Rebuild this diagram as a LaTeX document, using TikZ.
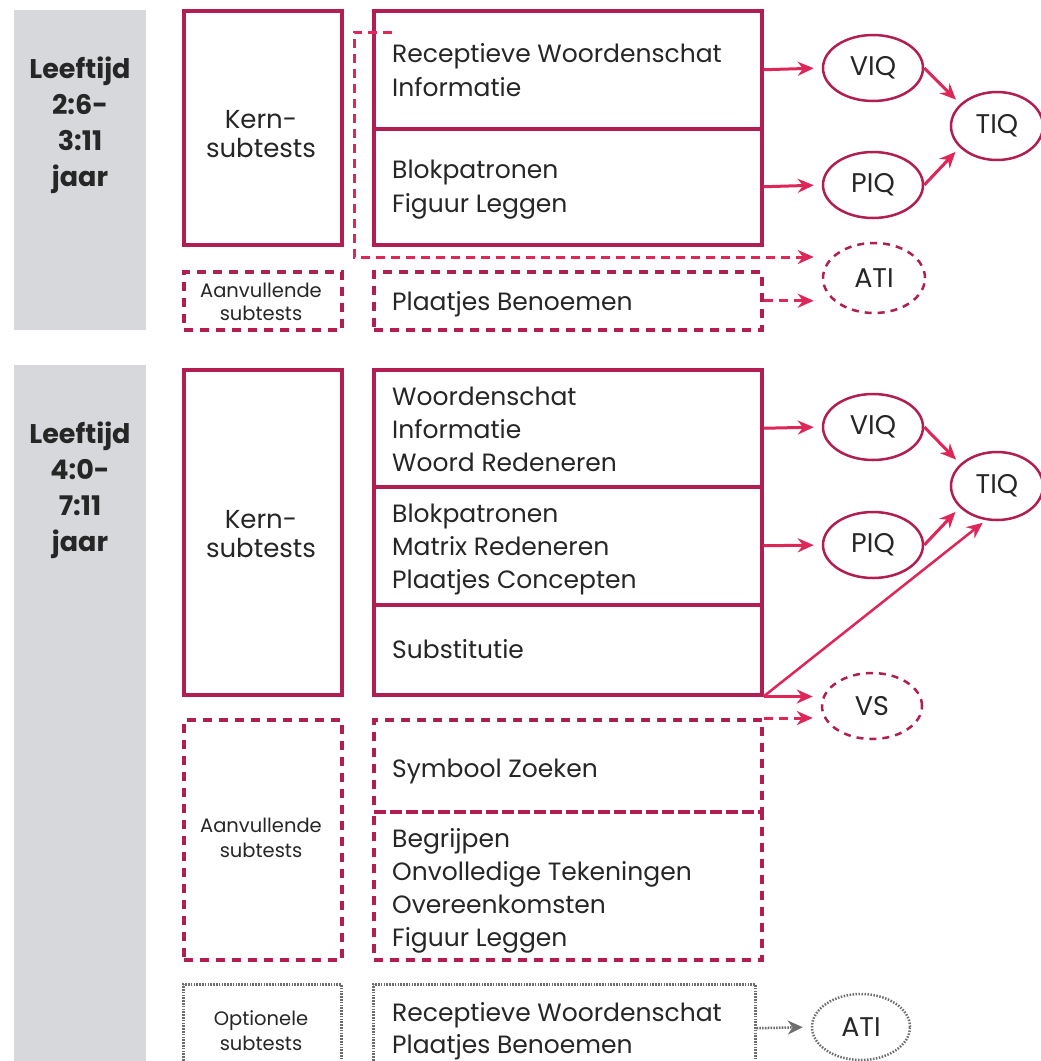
\documentclass[tikz,border=0pt]{standalone}
\usepackage{fontspec}
\setmainfont{Poppins}
\usetikzlibrary{arrows.meta,shapes.geometric,calc}
\definecolor{boxc}{RGB}{178,30,82}
\definecolor{arrc}{RGB}{222,38,88}
\definecolor{greyp}{RGB}{214,216,219}
\definecolor{dotc}{RGB}{110,110,110}
\tikzset{
  panel/.style={fill=greyp, draw=none},
  solidbox/.style={draw=boxc, line width=3.5pt, fill=white, inner sep=0pt, anchor=north west},
  dashbox/.style={draw=boxc, line width=3.5pt, dash pattern=on 9pt off 7pt, inner sep=0pt, anchor=north west},
  dotbox/.style={draw=dotc, line width=2.5pt, dash pattern=on 1.6pt off 1.2pt, inner sep=0pt, anchor=north west},
  lbl/.style={font=\fontsize{27}{30}\selectfont\bfseries, anchor=base, inner sep=0pt, text=black!85},
  item/.style={anchor=base west, font=\fontsize{25}{30}\selectfont, inner sep=0pt, text=black!85},
  kern/.style={anchor=base, font=\fontsize{26}{30}\selectfont, inner sep=0pt, text=black!85},
  small/.style={anchor=base, font=\fontsize{19.5}{22}\selectfont, inner sep=0pt, text=black!85},
  ell/.style={ellipse, draw=boxc, line width=2.5pt, inner sep=0pt, minimum width=100pt, minimum height=66pt, font=\fontsize{27}{30}\selectfont, text=black!85},
  dell/.style={ell, dash pattern=on 7pt off 6pt},
  pell/.style={ell, draw=dotc, dash pattern=on 1.5pt off 1.5pt},
  arr/.style={draw=arrc, line width=3pt, -{Stealth[length=16pt,width=14pt]}, shorten >=8pt},
  darr/.style={arr, dash pattern=on 9pt off 6pt},
  parr/.style={draw=dotc, line width=2.5pt, dash pattern=on 1.6pt off 1.2pt, -{Stealth[length=15pt,width=14pt]}, shorten >=8pt},
}
\begin{document}
\begin{tikzpicture}[x=1pt,y=-1pt]
\useasboundingbox[fill=white] (0,0) rectangle (1041,1061);
\clip (0,0) rectangle (1041,1061);
% grey panels
\fill[panel] (14,10) rectangle (146,330);
\fill[panel] (14,365) rectangle (146,1061);
% ===== top section =====
\node[lbl] (a1) at (80,78) {Leeftijd};
\node[lbl] (a2) at (80,114) {2:6-};
\node[lbl] (a3) at (80,150) {3:11};
\node[lbl] (a4) at (80,186) {jaar};

\node[solidbox, minimum width=158pt, minimum height=234pt] (k1) at (182,9) {};
\node[kern] (k1a) at (261,128) {Kern-};
\node[kern] (k1b) at (261,157) {subtests};
\node[dashbox, minimum width=158pt, minimum height=58pt] (av1) at (182,270) {};
\node[small] (av1a) at (261,297) {Aanvullende};
\node[small] (av1b) at (261,320) {subtests};

% dashed L shape (ATI route)
\coordinate (lt) at (392,32);
\coordinate (lc) at (354,32);
\coordinate (lb) at (354,257);

\node[solidbox, minimum width=388pt, minimum height=118pt] (r1) at (372,9) {};
\node[solidbox, minimum width=388pt, minimum height=116pt] (b1) at (372,127) {};
\node[item] (t1) at (392,62) {Receptieve Woordenschat};
\node[item] (t2) at (392,96) {Informatie};
\node[item] (t3) at (392,178) {Blokpatronen};
\node[item] (t4) at (392,212) {Figuur Leggen};
\node[dashbox, minimum width=388pt, minimum height=58pt] (p1) at (372,270) {};
\node[item] (t5) at (392,310) {Plaatjes Benoemen};

\node[ell] (viq1) at (873,68) {VIQ};
\node[ell] (piq1) at (873,185) {PIQ};
\node[ell, minimum width=92pt, minimum height=68pt] (tiq1) at (997,126) {TIQ};
\node[dell, minimum width=102pt, minimum height=70pt] (ati1) at (874,278) {ATI};

\draw[arr] (r1.east) -- (viq1.west);
\draw[arr] (b1.east) -- (piq1.west);
\draw[arr, shorten >=6pt] (viq1.east) -- (tiq1.149);
\draw[arr, shorten >=6pt] (piq1.east) -- (tiq1.210);
\draw[darr] (lt) -- (lc) -- (lb) -- (lb -| ati1.west);
\draw[darr] (p1.east) -- (p1.east -| ati1.west);

% ===== bottom section =====
\node[lbl] (c1) at (80,443) {Leeftijd};
\node[lbl] (c2) at (80,479) {4:0-};
\node[lbl] (c3) at (80,515) {7:11};
\node[lbl] (c4) at (80,551) {jaar};

\node[solidbox, minimum width=158pt, minimum height=325pt] (k2) at (182,368) {};
\node[kern] (k2a) at (261,528) {Kern-};
\node[kern] (k2b) at (261,557) {subtests};

\node[solidbox, minimum width=388pt, minimum height=117pt] (w2) at (372,368) {};
\node[solidbox, minimum width=388pt, minimum height=118pt] (b2) at (372,485) {};
\node[solidbox, minimum width=388pt, minimum height=90pt] (s2) at (372,603) {};
\node[item] (u1) at (392,405) {Woordenschat};
\node[item] (u2) at (392,438) {Informatie};
\node[item] (u3) at (392,471) {Woord Redeneren};
\node[item] (u4) at (392,522) {Blokpatronen};
\node[item] (u5) at (392,555) {Matrix Redeneren};
\node[item] (u6) at (392,588) {Plaatjes Concepten};
\node[item] (u7) at (392,658) {Substitutie};

\node[dashbox, minimum width=158pt, minimum height=240pt] (av2) at (182,718) {};
\node[small] (av2a) at (261,832) {Aanvullende};
\node[small] (av2b) at (261,857) {subtests};
\node[dashbox, minimum width=388pt, minimum height=92pt] (sz) at (372,718) {};
\node[dashbox, minimum width=388pt, minimum height=148pt] (bg) at (372,810) {};
\node[item] (u8) at (392,777) {Symbool Zoeken};
\node[item] (u9) at (392,847) {Begrijpen};
\node[item] (u10) at (392,880) {Onvolledige Tekeningen};
\node[item] (u11) at (392,913) {Overeenkomsten};
\node[item] (u12) at (392,946) {Figuur Leggen};

\node[dotbox, minimum width=158pt, minimum height=88pt] (o1) at (182,983) {};
\node[small] (o1a) at (261,1025) {Optionele};
\node[small] (o1b) at (261,1050) {subtests};
\node[dotbox, minimum width=382pt, minimum height=88pt] (o2) at (372,983) {};
\node[item] (u13) at (392,1021) {Receptieve Woordenschat};
\node[item] (u14) at (392,1053) {Plaatjes Benoemen};

\node[ell] (viq2) at (873,427) {VIQ};
\node[ell] (piq2) at (873,545) {PIQ};
\node[ell, minimum width=92pt, minimum height=68pt] (tiq2) at (997,486) {TIQ};
\node[dell] (vs) at (872,706) {VS};
\node[pell, minimum width=98pt, minimum height=66pt] (ati2) at (861,1027) {ATI};

\draw[arr] (w2.east) -- (viq2.west);
\draw[arr] (b2.east) -- (piq2.west);
\draw[arr, shorten >=6pt] (viq2.east) -- (tiq2.149);
\draw[arr, shorten >=6pt] (piq2.east) -- (tiq2.210);
\draw[arr, line width=2.5pt, shorten >=4pt] (s2.south east) -- (tiq2.252);
\draw[arr] (s2.south east) -- (s2.south east -| vs.west);
\draw[darr] (sz.north east) -- (sz.north east -| vs.west);
\draw[parr] (o2.east) -- (ati2.west);
\end{tikzpicture}
\end{document}
